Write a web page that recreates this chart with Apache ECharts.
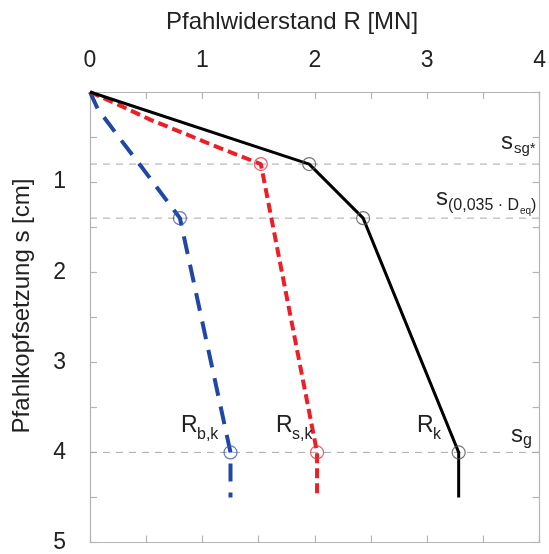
<!DOCTYPE html>
<html>
<head>
<meta charset="utf-8">
<script src="https://cdn.jsdelivr.net/npm/echarts@6/dist/echarts.min.js"></script>
<style>
html,body{margin:0;padding:0;background:#fff;}
#chart{width:549px;height:554px;}
</style>
</head>
<body>
<div id="chart"></div>
<script>
// ---- data ----
var xTicks = [0, 1, 2, 3, 4];
var yTicks = [1, 2, 3, 4, 5];
var blackR = [0, 1.95, 2.43, 3.28, 3.28];
var blackS = [0, 0.80, 1.40, 4.00, 4.50];
var redR = [0, 0.25, 0.54, 0.84, 1.09, 1.52, 2.02, 2.02];
var redS = [0, 0.14, 0.31, 0.46, 0.59, 0.80, 4.00, 4.50];
var blueR = [0, 0.07, 0.28, 0.47, 0.80, 1.25, 1.25];
var blueS = [0, 0.19, 0.54, 0.85, 1.40, 4.00, 4.50];
var blackMarkR = [1.95, 2.43, 3.28];
var blackMarkS = [0.80, 1.40, 4.00];
var redMarkR = [1.52, 2.02];
var redMarkS = [0.80, 4.00];
var blueMarkR = [0.80, 1.25];
var blueMarkS = [1.40, 4.00];
var refS = [0.8, 1.4, 4.0];
var xTitle = 'Pfahlwiderstand R [MN]';
var yTitle = 'Pfahlkopfsetzung s [cm]';

function zip(a, b) { return a.map(function (v, i) { return [v, b[i]]; }); }

var FONT = '"Liberation Sans", Arial, sans-serif';
var frame = '#b4b4b4';
var chart = echarts.init(document.getElementById('chart'), null, {renderer: 'canvas'});

function xAx(pos, show) {
  return {
    type: 'value', position: pos, min: 0, max: 4, interval: 0.5,
    axisLine: {show: true, onZero: false, lineStyle: {color: frame, width: 1.2}},
    axisTick: {show: true, inside: true, length: 7, lineStyle: {color: frame, width: 1.2}},
    axisLabel: {show: show, margin: 20, fontFamily: FONT, fontSize: 23, color: '#222',
      formatter: function (v) { return xTicks.indexOf(v) >= 0 ? String(v) : ''; }},
    splitLine: {show: false}
  };
}
function yAx(pos, show) {
  return {
    type: 'value', position: pos, min: 0, max: 5, interval: 0.5, inverse: true,
    axisLine: {show: true, onZero: false, lineStyle: {color: frame, width: 1.2}},
    axisTick: {show: true, inside: true, length: 7, lineStyle: {color: frame, width: 1.2}},
    axisLabel: {show: show, margin: 24, fontFamily: FONT, fontSize: 23, color: '#222',
      formatter: function (v) { return yTicks.indexOf(v) >= 0 ? String(v) : ''; }},
    splitLine: {show: false}
  };
}

var series = [];
refS.forEach(function (s) {
  series.push({type: 'line', xAxisIndex: 0, yAxisIndex: 0, data: [[0, s], [4, s]], symbol: 'none',
    lineStyle: {color: '#a8a8a8', width: 1, type: [7, 6]}, silent: true, z: 1});
});
series.push({type: 'line', data: zip(blueR, blueS), symbol: 'none',
  lineStyle: {color: '#2147a6', width: 4, type: [18, 11], cap: 'butt'}, z: 3});
series.push({type: 'line', data: zip(redR, redS), symbol: 'none',
  lineStyle: {color: '#ec1f27', width: 4, type: [10, 5], cap: 'butt'}, z: 4});
series.push({type: 'line', data: zip(blackR, blackS), symbol: 'none',
  lineStyle: {color: '#000', width: 3}, z: 5});
function marks(r, s, col) {
  return {type: 'scatter', data: zip(r, s), symbol: 'circle', symbolSize: 13,
    itemStyle: {color: 'rgba(0,0,0,0)', borderColor: col, borderWidth: 1.2}, z: 6};
}
series.push(marks(blueMarkR, blueMarkS, '#3a55b5'));
series.push(marks(redMarkR, redMarkS, '#e0343a'));
series.push(marks(blackMarkR, blackMarkS, '#555'));

function txt(x, y, t, size) {
  return {type: 'text', left: x, top: y, z: 10,
    style: {text: t, fontFamily: FONT, fontSize: size, fill: '#222'}};
}

chart.setOption({
  backgroundColor: '#fff',
  animation: false,
  grid: {left: 90, right: 6, top: 92, bottom: 11, containLabel: false},
  xAxis: [xAx('top', true), xAx('bottom', false)],
  yAxis: [yAx('left', true), yAx('right', false)],
  series: series,
  graphic: [
    {type: 'text', x: 292, y: 22, z: 10,
      style: {text: xTitle, fontFamily: FONT, fontSize: 24, fill: '#222', align: 'center', verticalAlign: 'middle'}},
    {type: 'text', x: 22, y: 306, rotation: Math.PI / 2, z: 10,
      style: {text: yTitle, fontFamily: FONT, fontSize: 24, fill: '#222', align: 'center', verticalAlign: 'middle'}},
    txt(181, 414, 'R', 23), txt(197, 427, 'b,k', 16),
    txt(276, 414, 'R', 23), txt(292, 427, 's,k', 16),
    txt(417, 414, 'R', 23), txt(433, 427, 'k', 16),
    txt(511, 423, 's', 24), txt(523, 433, 'g', 16),
    txt(501, 130, 's', 24), txt(514, 141, 'sg*', 15),
    txt(436, 186, 's', 24), txt(448, 198, '(0,035 \u00b7 D', 16), txt(520, 206, 'eq', 10), txt(531, 198, ')', 16)
  ]
});
</script>
</body>
</html>
